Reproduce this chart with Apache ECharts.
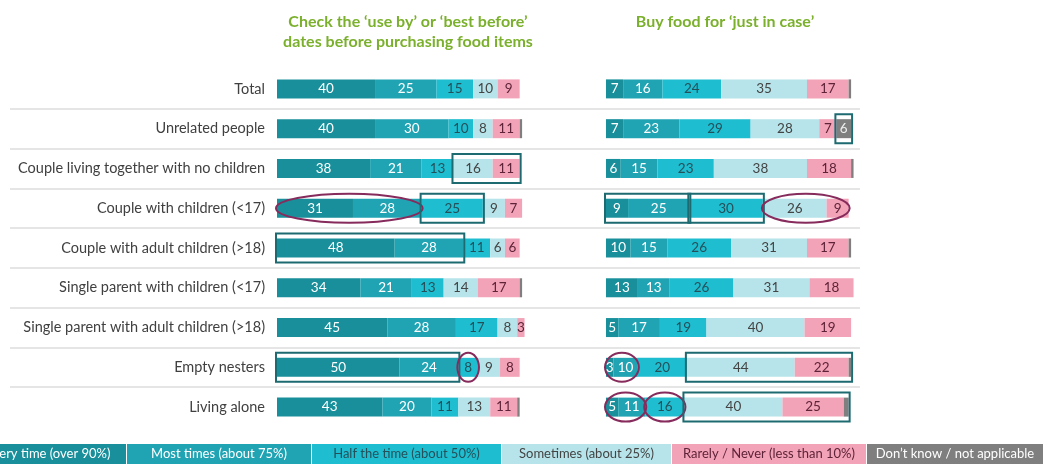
<!DOCTYPE html>
<html>
<head>
<meta charset="utf-8">
<script src="https://cdn.jsdelivr.net/npm/echarts@6/dist/echarts.min.js"></script>
<style>
  html, body { margin: 0; padding: 0; background: #fff; }
  #chart { width: 1043px; height: 464px; }
</style>
</head>
<body>
<div id="chart"></div>
<script>
// household types (rows, top to bottom)
const categories = [
  'Total',
  'Unrelated people',
  'Couple living together with no children',
  'Couple with children (<17)',
  'Couple with adult children (>18)',
  'Single parent with children (<17)',
  'Single parent with adult children (>18)',
  'Empty nesters',
  'Living alone'
];
const answerNames = [
  'Every time (over 90%)',
  'Most times (about 75%)',
  'Half the time (about 50%)',
  'Sometimes (about 25%)',
  'Rarely / Never (less than 10%)',
  'Don\u2019t know / not applicable'
];

// left panel: check use-by / best-before dates
const checkEvery  = [40, 40, 38, 31, 48, 34, 45, 50, 43];
const checkMost   = [25, 30, 21, 28, 28, 21, 28, 24, 20];
const checkHalf   = [15, 10, 13, 25, 11, 13, 17,  8, 11];
const checkSome   = [10,  8, 16,  9,  6, 14,  8,  9, 13];
const checkRarely = [ 9, 11, 11,  7,  6, 17,  3,  8, 11];
const checkDk     = [ 0,  1,  0,  0,  0,  1,  0,  0,  1];

// right panel: buy food just in case
const buyEvery  = [ 7,  7,  6,  9, 10, 13,  5,  3,  5];
const buyMost   = [16, 23, 15, 25, 15, 13, 17, 10, 11];
const buyHalf   = [24, 29, 23, 30, 26, 26, 19, 20, 16];
const buySome   = [35, 28, 38, 26, 31, 31, 40, 44, 40];
const buyRarely = [17,  7, 18,  9, 17, 18, 19, 22, 25];
const buyDk     = [ 1,  6,  1,  0,  1,  0,  0,  1,  2];

// highlighted segments: panel, row, first and last+1 answer index
const highlights = [
  { grid: 0, row: 2, from: 3, to: 5, kind: 'rect' },
  { grid: 0, row: 3, from: 0, to: 2, kind: 'ellipse' },
  { grid: 0, row: 3, from: 2, to: 3, kind: 'rect' },
  { grid: 0, row: 4, from: 0, to: 2, kind: 'rect' },
  { grid: 0, row: 7, from: 0, to: 2, kind: 'rect' },
  { grid: 0, row: 7, from: 2, to: 3, kind: 'ellipse' },
  { grid: 1, row: 1, from: 5, to: 6, kind: 'rect' },
  { grid: 1, row: 3, from: 0, to: 2, kind: 'rect' },
  { grid: 1, row: 3, from: 2, to: 3, kind: 'rect' },
  { grid: 1, row: 3, from: 3, to: 5, kind: 'ellipse' },
  { grid: 1, row: 7, from: 0, to: 2, kind: 'ellipse' },
  { grid: 1, row: 7, from: 3, to: 6, kind: 'rect' },
  { grid: 1, row: 8, from: 0, to: 2, kind: 'ellipse' },
  { grid: 1, row: 8, from: 2, to: 3, kind: 'ellipse' },
  { grid: 1, row: 8, from: 3, to: 6, kind: 'rect' }
];

const colors = ['#188f9a', '#20a3b3', '#1fbdd0', '#b6e4ea', '#f2a3b7', '#7f7f7f'];
const labelColors = ['#ffffff', '#ffffff', '#24505a', '#444444', '#5e2338', '#eeeeee'];
const FONT = 'Lato';

const panels = [
  [checkEvery, checkMost, checkHalf, checkSome, checkRarely, checkDk],
  [buyEvery, buyMost, buyHalf, buySome, buyRarely, buyDk]
];

const chart = echarts.init(document.getElementById('chart'));

const series = [];
panels.forEach((sets, g) => {
  sets.forEach((data, i) => {
    series.push({
      name: answerNames[i],
      type: 'bar',
      stack: 'p' + g,
      xAxisIndex: g,
      yAxisIndex: g,
      barWidth: 19,
      data: data,
      itemStyle: { color: colors[i] },
      label: {
        show: true,
        position: 'inside',
        fontFamily: FONT,
        fontSize: 13.5,
        color: labelColors[i],
        formatter: p => (p.value >= 3 ? p.value : '')
      },
      silent: true
    });
  });
});

const gridTop = 69, gridHeight = 358;
const valueAxis = gi => ({
  type: 'value', gridIndex: gi, min: 0, max: 102, show: false
});

const legendBoxes = [[-30, 126], [127, 311], [312, 501], [502, 671], [672, 866], [867, 1043]];
const legendGraphics = [];
legendBoxes.forEach((b, i) => {
  legendGraphics.push({
    type: 'rect', id: 'lg' + i, z: 50,
    shape: { x: b[0], y: 444, width: b[1] - b[0], height: 20 },
    style: { fill: colors[i] }
  });
  legendGraphics.push({
    type: 'text', id: 'lt' + i, z: 51,
    x: (b[0] + b[1]) / 2, y: 454,
    style: {
      text: answerNames[i], fill: labelColors[i] === '#eeeeee' ? '#ffffff' : labelColors[i],
      font: '13px ' + FONT, align: 'center', verticalAlign: 'middle'
    }
  });
});

const titleStyle = { fontFamily: FONT, fontWeight: 'bold', fontSize: 16, color: '#7ab02c', lineHeight: 20 };

chart.setOption({
  animation: false,
  title: [
    {
      text: 'Check the \u2018use by\u2019 or \u2018best before\u2019\ndates before purchasing food items',
      left: 403, top: 7, textAlign: 'center', textStyle: titleStyle
    },
    {
      text: 'Buy food for \u2018just in case\u2019',
      left: 720, top: 7, textAlign: 'center', textStyle: titleStyle
    }
  ],
  grid: [
    { left: 277, top: gridTop, width: 250, height: gridHeight },
    { left: 606, top: gridTop, width: 250, height: gridHeight },
    { left: 10, top: gridTop, width: 850, height: gridHeight }
  ],
  xAxis: [valueAxis(0), valueAxis(1), { type: 'value', gridIndex: 2, show: false }],
  yAxis: [
    {
      type: 'category', gridIndex: 0, data: categories, inverse: true,
      axisLine: { show: false }, axisTick: { show: false },
      axisLabel: { margin: 12, fontFamily: FONT, fontSize: 14.5, color: '#404040' }
    },
    {
      type: 'category', gridIndex: 1, data: categories, inverse: true, show: false
    },
    {
      type: 'category', gridIndex: 2, data: categories, inverse: true,
      axisLine: { show: false }, axisTick: { show: false }, axisLabel: { show: false },
      splitLine: { show: true, showMinLine: false, showMaxLine: false, lineStyle: { color: '#dcdcdc', width: 1.5 } }
    }
  ],
  series: series,
  graphic: legendGraphics
});

// place highlight outlines on the bar segments
const marks = [];
highlights.forEach((h, k) => {
  const sets = panels[h.grid];
  let start = 0, end = 0;
  for (let i = 0; i < h.to; i++) {
    if (i < h.from) start += sets[i][h.row];
    end += sets[i][h.row];
  }
  const p0 = chart.convertToPixel({ gridIndex: h.grid }, [start, h.row]);
  const p1 = chart.convertToPixel({ gridIndex: h.grid }, [end, h.row]);
  const cy = p0[1];
  if (h.kind === 'rect') {
    marks.push({
      type: 'rect', id: 'hl' + k, z: 100,
      shape: { x: p0[0] - 1, y: cy - 14.5, width: p1[0] - p0[0] + 2, height: 29 },
      style: { fill: 'none', stroke: '#1d6a71', lineWidth: 2 }
    });
  } else {
    marks.push({
      type: 'ellipse', id: 'hl' + k, z: 100,
      shape: { cx: (p0[0] + p1[0]) / 2, cy: cy, rx: (p1[0] - p0[0]) / 2 + 1, ry: 14.5 },
      style: { fill: 'none', stroke: '#862b5c', lineWidth: 2 }
    });
  }
});
chart.setOption({ graphic: legendGraphics.concat(marks) });
</script>
</body>
</html>
